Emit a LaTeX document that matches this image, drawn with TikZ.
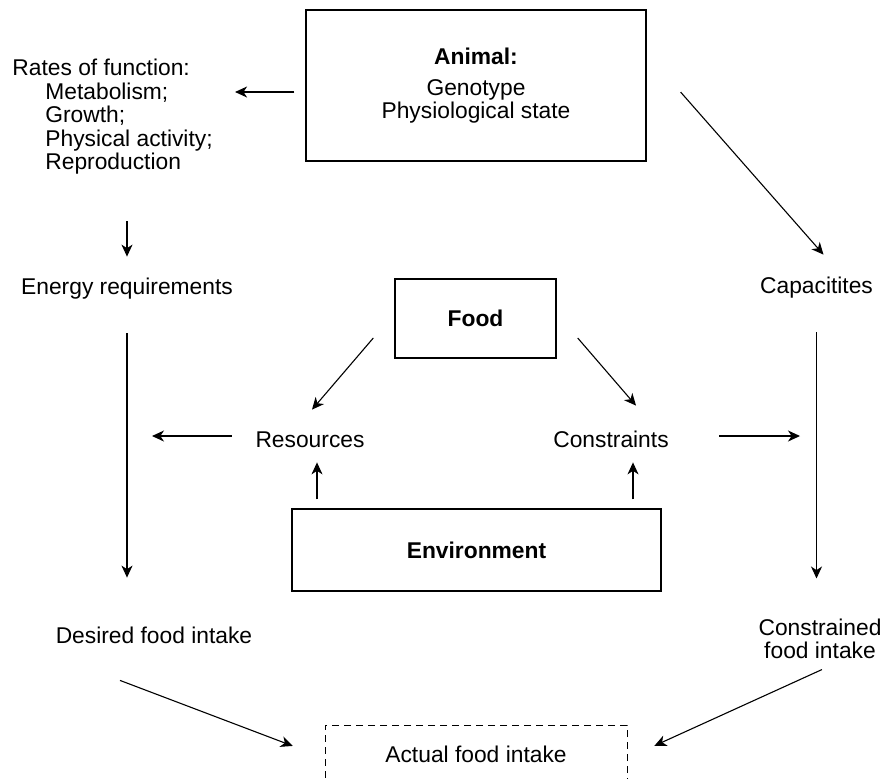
\documentclass[tikz,border=0pt]{standalone}
\usepackage{fontspec}
\setmainfont{Liberation Sans}
\usetikzlibrary{arrows.meta}

\begin{document}
\begin{tikzpicture}[x=0.5pt, y=-0.5pt,
    every node/.style={font=\fontsize{11.4}{11.75}\selectfont},
    txt/.style={inner sep=0pt, text height=8.5pt, text depth=2.5pt},
    lst/.style={inner sep=0pt},
    box/.style={draw, line width=0.7pt, inner sep=0pt, align=center},
    arr/.style={-{Stealth[length=6pt, width=5.5pt, inset=1.8pt]}, line width=0.55pt}]
    \useasboundingbox (0,0) rectangle (882,778);

    % boxes
    \node[box, minimum width=170pt, minimum height=75.5pt] (animal) at (476,85.5)
        {\textbf{Animal:}\\[3.75pt]Genotype\\Physiological state};
    \node[box, minimum width=80.5pt, minimum height=39.5pt] (food) at (475.5,318.5) {\textbf{Food}};
    \node[box, minimum width=184.5pt, minimum height=41pt] (env) at (476.5,550) {\textbf{Environment}};
    \node[box, line width=0.5pt, dash pattern=on 3.5pt off 2.5pt, minimum width=151pt, minimum height=29pt] (actual) at (476,754) {Actual food intake};

    % labels
    \node[lst, align=left, inner xsep=11pt, anchor=north west] (rates) at (-10,59)
        {Rates of function:\\\hspace*{16.5pt}Metabolism;\\\hspace*{16.5pt}Growth;\\\hspace*{16.5pt}Physical activity;\\\hspace*{16.5pt}Reproduction};
    \node[txt] (energy) at (127,288) {Energy requirements};
    \node[txt] (capac) at (816.5,287) {Capacitites};
    \node[txt] (resources) at (310,441) {Resources};
    \node[txt] (constraints) at (611,441) {Constraints};
    \node[txt] (desired) at (154,637) {Desired food intake};
    \node[lst, align=center] (constr) at (820,639) {Constrained\\food intake};

    % left side
    \draw[arr, shorten <=5.5pt] ([yshift=-3.25pt]animal.west) -- ([yshift=-3.25pt]animal.west -| rates.east);
    \draw[arr, shorten <=23pt, shorten >=10pt] (rates.south -| energy.north) -- (energy.north);
    \draw[arr, shorten <=17pt, shorten >=24pt] (energy.south) -- (energy.south |- desired.north);

    % right side
    \draw[arr, shorten <=25.7pt] ([yshift=16pt]animal.east) -- ([shift={(3.5pt,10.5pt)}]capac.north);
    \draw[arr, shorten <=17pt, shorten >=20pt] (capac.south) -- (capac.south |- constr.north);

    % food and environment
    \draw[arr] ([shift={(-10.5pt,-9.75pt)}]food.west) -- ([shift={(1pt,10pt)}]resources.north);
    \draw[arr] ([shift={(10.5pt,-9.75pt)}]food.east) -- ([shift={(12.5pt,12pt)}]constraints.north);
    \draw[arr, shorten <=11.7pt, shorten >=12.5pt] ([yshift=2.5pt]resources.west) -- ([yshift=2.5pt]resources.west -| energy.south);
    \draw[arr, shorten <=25pt, shorten >=8.25pt] ([yshift=2.5pt]constraints.east) -- ([yshift=2.5pt]constraints.east -| capac.south);
    \draw[arr, shorten <=4.5pt, shorten >=5pt] ([xshift=3.5pt]env.north -| resources) -- ([xshift=3.5pt]resources.south);
    \draw[arr, shorten <=4.5pt, shorten >=5pt] ([xshift=11pt]env.north -| constraints) -- ([xshift=11pt]constraints.south);

    % to actual intake
    \draw[arr, shorten >=17pt] ([shift={(-17pt,-16pt)}]desired.south) -- ([yshift=-2pt]actual.west);
    \draw[arr, shorten >=14.8pt] ([shift={(1pt,-5pt)}]constr.south) -- ([yshift=-2pt]actual.east);
\end{tikzpicture}
\end{document}
